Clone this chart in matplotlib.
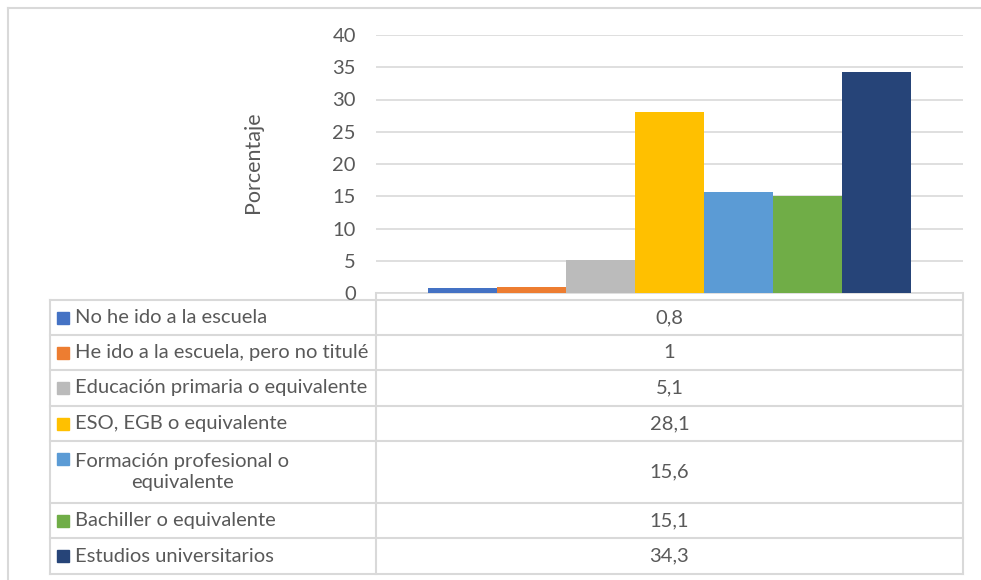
import matplotlib.pyplot as plt
import numpy as np

plt.rcParams['font.family'] = ['Lato', 'DejaVu Sans']

# niveles de estudios y porcentajes
niveles = [
    'No he ido a la escuela',
    'He ido a la escuela, pero no titulé',
    'Educación primaria o equivalente',
    'ESO, EGB o equivalente',
    'Formación profesional o\nequivalente',
    'Bachiller o equivalente',
    'Estudios universitarios',
]
porcentajes = [0.8, 1, 5.1, 28.1, 15.6, 15.1, 34.3]
colores = ['#4472C4', '#ED7D31', '#BBBBBB', '#FFC000', '#5B9BD5', '#70AD47', '#264478']
yticks = [0, 5, 10, 15, 20, 25, 30, 35, 40]

W, H = 981, 580
txt = '#595959'
linea = '#D9D9D9'
fs = 14.5

fig = plt.figure(figsize=(W / 100, H / 100), dpi=100)

# capa con coordenadas en pixeles para marco y tabla
bg = fig.add_axes([0, 0, 1, 1])
bg.set_xlim(0, W)
bg.set_ylim(H, 0)
bg.axis('off')

# ejes de barras
x0, x1, ytop, ybot = 376, 963, 35, 293
ax = fig.add_axes([x0 / W, 1 - ybot / H, (x1 - x0) / W, (ybot - ytop) / H])
n = len(porcentajes)
pos = np.arange(n) - (n - 1) / 2
for p, v, c in zip(pos, porcentajes, colores):
    ax.bar(p, v, width=1.0, color=c, zorder=3)
ax.set_xlim(-n / 2 - 0.75, n / 2 + 0.75)
ax.set_ylim(0, 40)
ax.set_yticks(yticks)
ax.set_yticklabels([str(t) for t in yticks], color=txt, fontsize=fs)
ax.tick_params(axis='y', length=0, pad=14.5)
ax.set_xticks([])
ax.grid(axis='y', color=linea, linewidth=1.2, zorder=0)
for s in ['top', 'right', 'left']:
    ax.spines[s].set_visible(False)
ax.spines['bottom'].set_color(linea)
ax.spines['bottom'].set_linewidth(1.2)
ax.set_facecolor('none')
fig.text(253 / W, 1 - 162 / H, 'Porcentaje', rotation=90, ha='center', va='center',
         color=txt, fontsize=fs + 1)

# marco exterior
bg.plot([8, 8], [H, 8], color=linea, lw=1.5)
bg.plot([8, W], [8, 8], color=linea, lw=1.5)

# tabla de datos
tl, tm, tr = 50, 376, 963
filas = [300, 335, 370, 406, 441, 503, 538, 574]
for y in filas:
    bg.plot([tl, tr], [y, y], color=linea, lw=1.5)
bg.plot([tl, tl], [filas[0], filas[-1]], color=linea, lw=1.5)
bg.plot([tm, tm], [ybot, filas[-1]], color=linea, lw=1.5)
bg.plot([tr, tr], [ybot, filas[-1]], color=linea, lw=1.5)

for i, (nom, v, c) in enumerate(zip(niveles, porcentajes, colores)):
    ya, yb = filas[i], filas[i + 1]
    yc = (ya + yb) / 2
    two = '\n' in nom
    ymark = ya + 17.5 if two else yc
    bg.add_patch(plt.Rectangle((57, ymark - 6), 12, 12, color=c))
    bg.text(75, yc, nom, ha='left', va='center', multialignment='center',
            color=txt, fontsize=fs, linespacing=1.35)
    bg.text((tm + tr) / 2, yc, f'{v:g}'.replace('.', ','), ha='center', va='center',
            color=txt, fontsize=fs)

fig.savefig('out.png', dpi=100)
